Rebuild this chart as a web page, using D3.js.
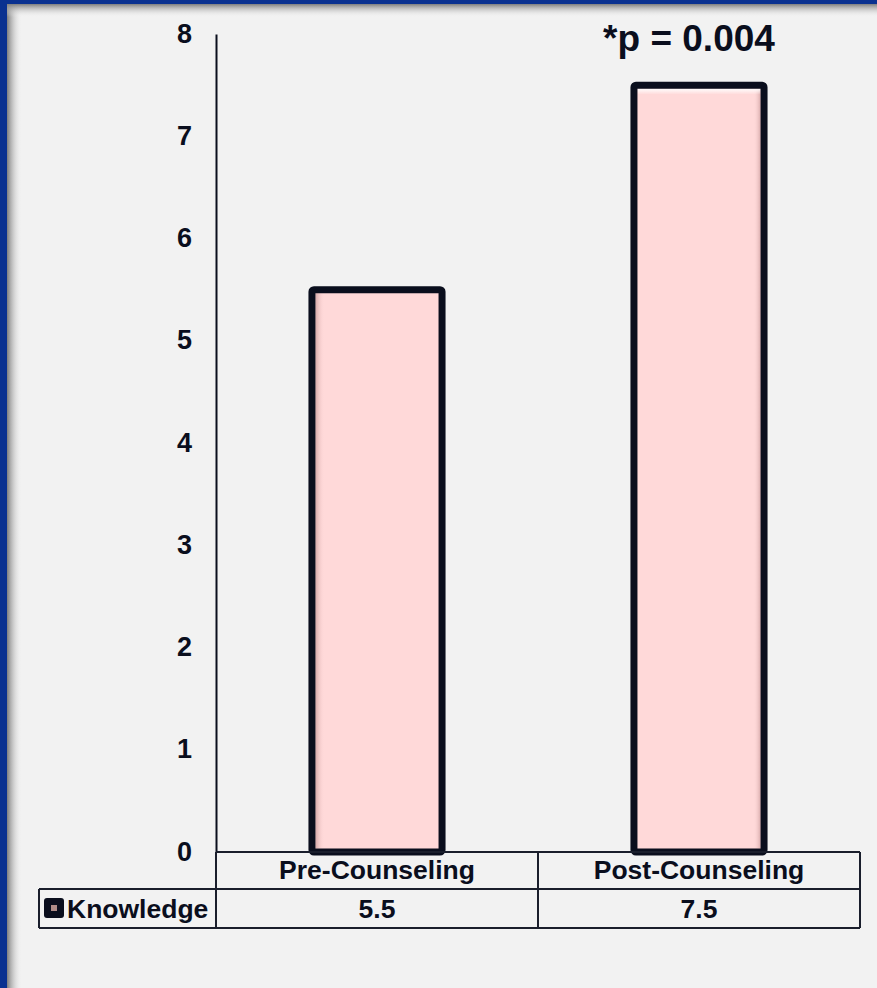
<!DOCTYPE html>
<html>
<head>
<meta charset="utf-8">
<script src="https://cdn.jsdelivr.net/npm/d3@7"></script>
<style>
  html, body { margin: 0; padding: 0; background: #f2f2f2; }
  svg { display: block; font-family: "Liberation Sans", Arial, sans-serif; }
</style>
</head>
<body>
<svg id="chart" width="877" height="988"></svg>
<script>
// Knowledge score before and after counseling
const categories = ["Pre-Counseling", "Post-Counseling"];
const knowledge = [5.5, 7.5];
const seriesName = "Knowledge";
const yTicks = [0, 1, 2, 3, 4, 5, 6, 7, 8];
const pValueLabel = "*p = 0.004";

const W = 877, H = 988;
const ink = "#0a0e1d";
const svg = d3.select("#chart");
const defs = svg.append("defs");

// page background and slide frame
svg.append("rect").attr("width", W).attr("height", H).attr("fill", "#f2f2f2");

const shadeL = defs.append("linearGradient").attr("id", "shadeL").attr("x1", 0).attr("x2", 1).attr("y1", 0).attr("y2", 0);
shadeL.append("stop").attr("offset", 0).attr("stop-color", "#7e7e7e");
shadeL.append("stop").attr("offset", 1).attr("stop-color", "#f2f2f2").attr("stop-opacity", 0);
const shadeT = defs.append("linearGradient").attr("id", "shadeT").attr("x1", 0).attr("x2", 0).attr("y1", 0).attr("y2", 1);
shadeT.append("stop").attr("offset", 0).attr("stop-color", "#7e7e7e");
shadeT.append("stop").attr("offset", 1).attr("stop-color", "#f2f2f2").attr("stop-opacity", 0);

svg.append("rect").attr("x", 7).attr("y", 4).attr("width", 15).attr("height", H).attr("fill", "url(#shadeL)");
svg.append("rect").attr("x", 7).attr("y", 4).attr("width", W).attr("height", 13).attr("fill", "url(#shadeT)");
svg.append("rect").attr("x", 0).attr("y", 0).attr("width", 7).attr("height", H).attr("fill", "#0a3190");
svg.append("rect").attr("x", 0).attr("y", 0).attr("width", W).attr("height", 4).attr("fill", "#0a3190");

// plot geometry
const plotLeft = 216, plotRight = 860, axisTop = 34, baseY = 852;
const rowMid = 889, rowBottom = 928, tableLeft = 39;

const x = d3.scaleBand().domain(categories).range([plotLeft, plotRight]).padding(0);
const y = d3.scaleLinear().domain([0, 8]).range([baseY, axisTop]);
const barFrac = 0.404;

// y axis: line plus bold tick labels
const yAxis = d3.axisLeft(y).tickValues(yTicks).tickSize(0).tickPadding(24).tickFormat(d3.format("d"));
const gy = svg.append("g").attr("transform", `translate(${plotLeft},0)`).call(yAxis);
gy.select(".domain").attr("stroke", ink).attr("stroke-width", 2);
gy.selectAll("text").attr("fill", ink).attr("font-size", 27).attr("font-weight", "bold")
  .attr("font-family", "'Liberation Sans', Arial, sans-serif").attr("dy", "0.3em");

// bar bevel gradients
const bevelL = defs.append("linearGradient").attr("id", "bevelL").attr("x1", 0).attr("x2", 1);
bevelL.append("stop").attr("offset", 0).attr("stop-color", "#c99a9a").attr("stop-opacity", 0.8);
bevelL.append("stop").attr("offset", 1).attr("stop-color", "#ffd9d9").attr("stop-opacity", 0);
const bevelR = defs.append("linearGradient").attr("id", "bevelR").attr("x1", 1).attr("x2", 0);
bevelR.append("stop").attr("offset", 0).attr("stop-color", "#c99a9a").attr("stop-opacity", 0.7);
bevelR.append("stop").attr("offset", 1).attr("stop-color", "#ffd9d9").attr("stop-opacity", 0);
const bevelT = defs.append("linearGradient").attr("id", "bevelT").attr("x1", 0).attr("x2", 0).attr("y1", 0).attr("y2", 1);
bevelT.append("stop").attr("offset", 0).attr("stop-color", "#ffffff").attr("stop-opacity", 0.95);
bevelT.append("stop").attr("offset", 1).attr("stop-color", "#ffffff").attr("stop-opacity", 0);

const data = categories.map((c, i) => ({ c, v: knowledge[i], i }));
const bars = svg.append("g").selectAll("g").data(data).join("g");
const bx = d => x(d.c) + x.bandwidth() * (1 - barFrac) / 2;
const bw = x.bandwidth() * barFrac;

bars.append("rect")
  .attr("x", bx).attr("y", d => y(d.v))
  .attr("width", bw).attr("height", d => baseY - y(d.v))
  .attr("fill", "#ffd9d9");
// inner shading, drawn inside the outline
const sw = 7;
bars.append("rect")
  .attr("x", d => bx(d) + sw / 2).attr("y", d => y(d.v) + sw / 2)
  .attr("width", 9).attr("height", d => baseY - y(d.v) - sw)
  .attr("fill", "url(#bevelL)").attr("opacity", d => d.i === 0 ? 1 : 0);
bars.append("rect")
  .attr("x", d => bx(d) + bw - sw / 2 - 7).attr("y", d => y(d.v) + sw / 2)
  .attr("width", 7).attr("height", d => baseY - y(d.v) - sw)
  .attr("fill", "url(#bevelR)").attr("opacity", d => d.i === 1 ? 1 : 0);
bars.append("rect")
  .attr("x", d => bx(d) + sw / 2).attr("y", d => y(d.v) + sw / 2)
  .attr("width", bw - sw).attr("height", 6)
  .attr("fill", "url(#bevelT)").attr("opacity", d => d.i === 1 ? 1 : 0);
bars.append("rect")
  .attr("x", bx).attr("y", d => y(d.v))
  .attr("width", bw).attr("height", d => baseY - y(d.v))
  .attr("rx", 2)
  .attr("fill", "none").attr("stroke", ink).attr("stroke-width", sw);

// significance annotation above the second bar
svg.append("text")
  .attr("x", x(categories[1]) + x.bandwidth() / 2 - 10).attr("y", 51)
  .attr("text-anchor", "middle").attr("font-size", 37).attr("font-weight", "bold")
  .attr("fill", ink).text(pValueLabel);

// data table beneath the plot
const tbl = svg.append("g").attr("stroke", "#1a1e2c").attr("stroke-width", 2).attr("fill", "none");
tbl.append("line").attr("x1", plotLeft).attr("x2", plotRight).attr("y1", baseY).attr("y2", baseY);
tbl.append("line").attr("x1", tableLeft).attr("x2", plotRight).attr("y1", rowMid).attr("y2", rowMid);
tbl.append("line").attr("x1", tableLeft).attr("x2", plotRight).attr("y1", rowBottom).attr("y2", rowBottom);
tbl.append("line").attr("x1", tableLeft).attr("x2", tableLeft).attr("y1", rowMid).attr("y2", rowBottom);
tbl.append("line").attr("x1", plotLeft).attr("x2", plotLeft).attr("y1", baseY).attr("y2", rowBottom);
tbl.selectAll("line.sep").data(categories).join("line").attr("class", "sep")
  .attr("x1", d => x(d) + x.bandwidth()).attr("x2", d => x(d) + x.bandwidth())
  .attr("y1", baseY).attr("y2", rowBottom);

svg.append("g").selectAll("text").data(categories).join("text")
  .attr("x", d => x(d) + x.bandwidth() / 2).attr("y", 879)
  .attr("text-anchor", "middle").attr("font-size", 26.5).attr("font-weight", "bold")
  .attr("fill", ink).text(d => d);

svg.append("g").selectAll("text").data(data).join("text")
  .attr("x", d => x(d.c) + x.bandwidth() / 2).attr("y", 918)
  .attr("text-anchor", "middle").attr("font-size", 26.5).attr("font-weight", "bold")
  .attr("fill", ink).text(d => d.v);

// legend key and series name
svg.append("rect").attr("x", 44).attr("y", 898).attr("width", 20).attr("height", 20)
  .attr("rx", 3).attr("fill", ink);
svg.append("rect").attr("x", 51).attr("y", 905).attr("width", 6).attr("height", 6).attr("fill", "#b08c88");
svg.append("text").attr("x", 67).attr("y", 918).attr("font-size", 26.5).attr("font-weight", "bold")
  .attr("fill", ink).text(seriesName);
</script>
</body>
</html>
